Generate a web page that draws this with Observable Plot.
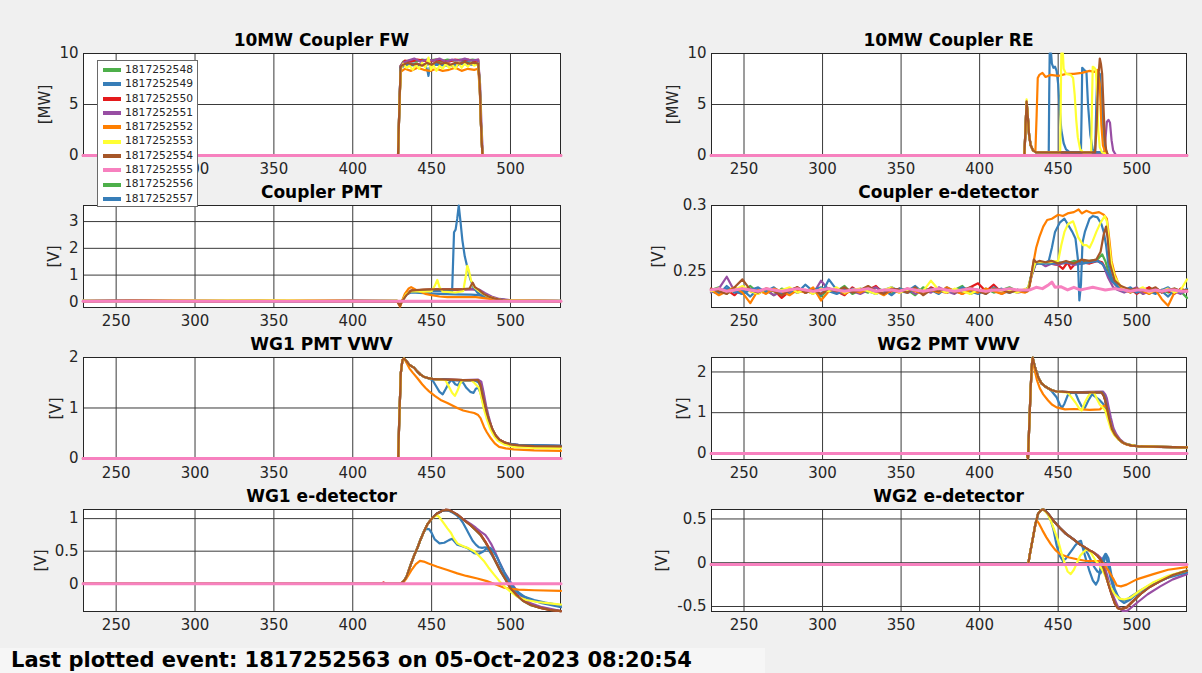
<!DOCTYPE html>
<html><head><meta charset="utf-8">
<script src="https://cdn.jsdelivr.net/npm/d3@7"></script>
<script src="https://cdn.jsdelivr.net/npm/@observablehq/plot@0.6"></script>
<style>
html,body{margin:0;padding:0;background:#f0f0f0;}
#fig{position:relative;width:1202px;height:673px;background:#f0f0f0;overflow:hidden;font-family:"DejaVu Sans",sans-serif;}
.title{position:absolute;text-align:center;font-weight:bold;font-size:17px;line-height:20px;color:#000;white-space:nowrap;}
#legend{position:absolute;left:97px;top:60px;width:101px;height:147px;box-sizing:border-box;background:#fff;border:1px solid #6a6a6a;z-index:5;padding-top:2px;}
.lg{height:14.3px;position:relative;}
.lg .sw{position:absolute;left:5px;top:5.2px;width:18px;height:4px;}
.lg .tx{position:absolute;left:27px;top:0;font-size:10.7px;line-height:14.3px;color:#262626;}
#footer{position:absolute;left:0;top:648px;width:765px;height:25px;background:#f6f6f6;}
#footer span{position:absolute;left:11px;top:0;font-size:21px;line-height:25px;font-weight:bold;color:#000;white-space:nowrap;}
</style></head>
<body><div id="fig"></div>
<script>
// ---------- series ----------
const seriesIds = ["1817252548","1817252549","1817252550","1817252551","1817252552","1817252553","1817252554","1817252555","1817252556","1817252557"];
const seriesColors = ["#4daf4a","#377eb8","#e41a1c","#984ea3","#ff7f00","#ffff33","#a65628","#f781bf","#4daf4a","#377eb8"];
const xTicks = [250,300,350,400,450,500];
const xDomain = [229.3,531.7];
const footerText = "Last plotted event: 1817252563 on 05-Oct-2023 08:20:54";

// ---------- 10MW Coupler FW ----------
const fwTraces = [
 {id:"1817252548",pts:[[229,0],[428.7,0],[429.6,5],[430.4,8.8],[432,9.2],[436,9.3],[440,9.2],[444,9.4],[448,9.3],[452,9.4],[456,9.2],[460,9.4],[464,9.3],[468,9.4],[472,9.3],[476,9.4],[479.5,9.3],[480.5,7],[481.3,3],[482.2,0],[532,0]]},
 {id:"1817252550",pts:[[229,0],[428.7,0],[429.6,5],[430.4,8.8],[433,9.3],[437,9.2],[441,9.4],[445,9.3],[449,9.2],[453,9.4],[457,9.3],[461,9.2],[465,9.4],[469,9.3],[473,9.4],[477,9.2],[479.5,9.4],[480.5,7],[481.3,3],[482.2,0],[532,0]]},
 {id:"1817252551",pts:[[229,0],[428.7,0],[429.6,5],[430.4,8.8],[432,9.1],[435,9.3],[439,9.5],[443,9.2],[447,9.4],[451,9.3],[455,9.5],[459,9.2],[463,9.4],[467,9.3],[471,9.5],[475,9.3],[479.5,9.4],[480.7,7],[481.6,3],[482.5,0],[532,0]]},
 {id:"1817252549",pts:[[229,0],[428.7,0],[429.6,5],[430.4,8.6],[434,8.9],[440,8.8],[446,8.9],[447.5,8.2],[448,7.8],[448.7,8.6],[452,8.9],[460,8.8],[468,9.0],[475,8.9],[479.5,8.9],[480.5,7],[481.3,3],[482.2,0],[532,0]]},
 {id:"1817252557",pts:[[229,0],[428.7,0],[429.6,5],[430.4,8.7],[436,9.0],[445,8.9],[455,9.0],[465,8.7],[470,9.2],[479.5,9.0],[480.5,7],[481.3,3],[482.2,0],[532,0]]},
 {id:"1817252552",pts:[[229,0],[428.7,0],[429.6,5],[430.4,8.2],[433,8.5],[437,8.3],[441,8.6],[445,8.4],[449,8.3],[453,8.5],[457,8.3],[461,8.4],[465,8.6],[469,8.3],[473,8.5],[477,8.4],[479.5,8.5],[480.5,6.5],[481.3,3],[482.2,0],[532,0]]},
 {id:"1817252553",pts:[[229,0],[428.7,0],[429.6,5],[430.5,8.5],[432,9.0],[434,8.6],[436,8.8],[438,8.4],[440,8.9],[442,8.5],[444,9.1],[446,8.6],[448,9.6],[449.5,8.4],[451,8.9],[453,8.3],[455,8.8],[457,8.5],[459,9.0],[461,8.6],[463,8.9],[465,8.5],[467,9.1],[469,8.6],[471,9.0],[473,8.7],[475,9.1],[477,8.8],[479.5,9.0],[480.5,7],[481.3,3],[482.2,0],[532,0]]},
 {id:"1817252554",pts:[[229,0],[428.7,0],[429.6,5],[430.4,8.7],[432,8.9],[435,9.1],[438,8.9],[441,9.0],[444,8.8],[447,9.1],[450,8.9],[453,9.2],[456,9.0],[459,9.1],[462,8.9],[465,9.1],[468,9.0],[471,9.2],[474,9.0],[477,9.1],[479.5,9.0],[480.5,7],[481.3,3],[482.2,0],[532,0]]},
 {id:"1817252555",pts:[[229,0],[532,0]]}
];

// ---------- 10MW Coupler RE ----------
const reTraces = [
 {id:"1817252548",pts:[[229,0],[428.5,0],[429.3,3],[429.9,5.2],[430.6,4],[431.5,2],[432.5,1],[434,0.5],[436,0.3],[478,0.3],[479.5,0.2],[481,0],[532,0]]},
 {id:"1817252550",pts:[[229,0],[428.5,0],[429.3,3],[429.9,5.2],[430.6,4],[431.5,2],[432.5,1],[434,0.5],[436,0.3],[478,0.3],[479.5,0.2],[481,0],[532,0]]},
 {id:"1817252551",pts:[[229,0],[428.5,0],[429.3,3],[429.9,5.2],[430.6,4],[431.5,2],[432.5,1],[434,0.5],[436,0.3],[479.5,0.3],[480.3,2],[481,3.3],[482,3.5],[483,3.2],[484,1.5],[485,0.5],[486.5,0.1],[487.5,0],[532,0]]},
 {id:"1817252549",pts:[[229,0],[428.5,0],[429.3,3],[429.9,5.2],[430.6,4],[431.5,2],[432.5,1],[434,0.5],[436,0.3],[444,0.3],[444.3,6],[444.6,10],[445.5,10],[446,9],[447,8.6],[448,8.7],[449,8.3],[450,7],[451,4.5],[452,2.5],[453.5,1.2],[455,0.6],[457,0.35],[478,0.3],[480,0.2],[481.5,0],[532,0]]},
 {id:"1817252557",pts:[[229,0],[428.5,0],[429.3,3],[429.9,5.2],[430.6,4],[431.5,2],[432.5,1],[434,0.5],[436,0.3],[464.5,0.3],[465,5],[465.3,8.6],[466.5,8.4],[468,8.2],[469,5],[470.5,2],[472,0.6],[473.5,0.3],[474.3,5],[475,8.2],[476.5,8.0],[477.5,6],[478.5,3],[479.5,1],[481,0.2],[482,0],[532,0]]},
 {id:"1817252552",pts:[[229,0],[428.5,0],[429.3,3],[429.9,5.2],[430.6,4],[431.5,2],[432.5,1],[434,0.5],[435.5,0.4],[436.3,4],[437,7.6],[438,7.9],[440,8.1],[442,7.7],[445,7.9],[450,7.8],[455,8.0],[460,8.0],[465,8.1],[470,8.3],[473,8.2],[475,8.4],[476.5,7],[477.5,3],[478.5,1],[480,0.3],[481.5,0],[532,0]]},
 {id:"1817252553",pts:[[229,0],[428.5,0],[429.3,3],[429.9,5.5],[430.6,4],[431.5,2],[432.5,1],[434,0.5],[436,0.3],[451.3,0.3],[451.7,6],[452,10],[453,10],[453.5,8.5],[455,8.0],[458,7.9],[459.5,7.6],[460.5,6],[461.5,3.5],[462.5,1.8],[464,0.6],[466,0.3],[471,0.3],[471.5,5],[472,8.7],[473,8.6],[474,8.4],[474.8,6],[475.5,2.5],[476.5,0.8],[478,0.3],[480,0.2],[481.5,0],[532,0]]},
 {id:"1817252554",pts:[[229,0],[428.5,0],[429.3,3],[429.9,5.3],[430.6,4],[431.5,2],[432.5,1],[434,0.5],[436,0.3],[473.5,0.3],[474.5,3],[475.5,7.5],[476.5,9.5],[477.2,9.0],[478,8.0],[478.8,5],[479.6,2],[480.5,0.6],[481.5,0.1],[482.5,0],[532,0]]},
 {id:"1817252555",pts:[[229,0],[532,0]]}
];

// ---------- Coupler PMT ----------
const cpmtTraces = [
 {id:"1817252548",pts:[[229,0.04],[280,0.03],[330,0.05],[380,0.03],[428,0.04],[430,-0.1],[431.5,0.05],[434,0.3],[437,0.42],[442,0.44],[450,0.46],[460,0.45],[470,0.47],[476,0.5],[479,0.45],[483,0.3],[487,0.18],[492,0.1],[500,0.05],[532,0.04]]},
 {id:"1817252550",pts:[[229,0.03],[270,0.05],[320,0.02],[370,0.05],[428,0.03],[430,-0.1],[431.5,0.05],[434,0.3],[437,0.42],[445,0.45],[455,0.47],[465,0.46],[475,0.48],[479,0.45],[483,0.3],[487,0.18],[492,0.1],[500,0.05],[532,0.03]]},
 {id:"1817252551",pts:[[229,0.05],[260,0.03],[310,0.06],[360,0.03],[428,0.05],[430,-0.12],[431.5,0.05],[434,0.3],[437,0.4],[445,0.44],[455,0.46],[465,0.47],[475,0.48],[480,0.46],[484,0.32],[488,0.2],[493,0.11],[500,0.06],[532,0.04]]},
 {id:"1817252549",pts:[[229,0.03],[300,0.04],[350,0.02],[400,0.04],[428,0.03],[430,-0.1],[431.5,0.05],[434,0.3],[437,0.4],[445,0.42],[455,0.4],[463,0.4],[463.6,1.5],[464.2,2.6],[465.2,2.7],[466.2,3.1],[467.2,3.6],[468.3,3.0],[469.5,2.3],[471,1.7],[472.6,1.3],[474.5,0.85],[476.5,0.55],[479,0.35],[482,0.22],[486,0.15],[491,0.08],[500,0.04],[532,0.03]]},
 {id:"1817252557",pts:[[229,0.04],[320,0.03],[428,0.04],[430,-0.1],[431.5,0.05],[434,0.28],[437,0.35],[445,0.33],[455,0.3],[465,0.28],[475,0.27],[480,0.25],[485,0.17],[490,0.1],[500,0.05],[532,0.04]]},
 {id:"1817252552",pts:[[229,0.03],[290,0.05],[340,0.03],[390,0.05],[428,0.03],[430,-0.18],[431,0.0],[433,0.3],[435.5,0.5],[437,0.55],[440,0.45],[443,0.38],[446,0.3],[450,0.25],[455,0.2],[460,0.18],[470,0.18],[478,0.18],[482,0.15],[488,0.1],[495,0.05],[532,0.03]]},
 {id:"1817252553",pts:[[229,0.05],[250,0.03],[300,0.05],[350,0.07],[400,0.03],[428,0.05],[430,-0.1],[431.5,0.05],[434,0.3],[437,0.4],[445,0.38],[450,0.4],[452,0.6],[453.6,0.82],[455,0.55],[457,0.38],[465,0.35],[470,0.4],[471.5,0.9],[472.6,1.35],[473.5,1.2],[475,0.8],[477,0.55],[480,0.4],[485,0.22],[490,0.12],[495,0.06],[532,0.04]]},
 {id:"1817252554",pts:[[229,0.03],[260,0.05],[300,0.02],[340,0.04],[380,0.02],[428,0.03],[430,-0.15],[431,0.0],[434,0.25],[437,0.42],[440,0.44],[445,0.46],[450,0.47],[460,0.47],[470,0.48],[474,0.5],[476,0.72],[477.5,0.55],[480,0.45],[483,0.3],[486,0.2],[490,0.12],[495,0.07],[500,0.05],[532,0.03]]},
 {id:"1817252555",pts:[[229,0.02],[532,0.02]]}
];

// ---------- Coupler e-detector (noisy baseline sampled at cedPreX / cedPostX) ----------
const cedPreX = [229,234,239,244,249,254,259,264,269,274,279,284,289,294,299,304,309,314,319,324,329,334,339,344,349,354,359,364,369,374,379,384,389,394,399,404,409,414,419,424,429];
const cedPostX = [492,496,500,504,508,512,516,520,524,528,532];
const cedTraces = [
 {id:"1817252548",
  pre:[.236,.238,.233,.237,.235,.239,.234,.236,.232,.237,.235,.238,.234,.236,.231,.237,.235,.239,.233,.236,.234,.238,.235,.233,.237,.236,.232,.238,.235,.237,.234,.236,.239,.233,.235,.237,.234,.236,.238,.235,.236],
  pts:[[431,.238],[433,.248],[435.5,.257],[440,.256],[445,.258],[450,.257],[455,.256],[460,.258],[465,.257],[470,.258],[475,.259],[478,.263],[480,.258],[482,.25],[485,.243],[488,.239]],
  post:[.237,.234,.236,.233,.238,.235,.236,.234,.237,.235,.230]},
 {id:"1817252550",
  pre:[.237,.234,.236,.232,.238,.235,.233,.237,.236,.230,.235,.238,.234,.236,.233,.237,.235,.232,.238,.234,.236,.239,.233,.235,.237,.234,.236,.233,.238,.235,.234,.236,.233,.238,.241,.235,.240,.234,.237,.235,.236],
  pts:[[431,.237],[433,.247],[435.5,.256],[440,.257],[445,.256],[450,.255],[453,.252],[456,.257],[458,.252],[461,.256],[465,.257],[470,.256],[475,.258],[478,.257],[481,.25],[484,.243],[488,.238]],
  post:[.235,.237,.233,.236,.238,.234,.236,.235,.233,.237,.235]},
 {id:"1817252551",
  pre:[.234,.237,.246,.235,.233,.237,.234,.236,.232,.235,.237,.234,.236,.233,.243,.236,.234,.237,.235,.233,.236,.238,.234,.236,.235,.237,.233,.236,.234,.238,.235,.233,.237,.236,.234,.235,.237,.233,.236,.234,.235],
  pts:[[431,.236],[433,.246],[435.5,.255],[438,.257],[442,.254],[446,.256],[450,.255],[455,.257],[460,.255],[465,.256],[470,.257],[475,.258],[478.7,.255],[481.9,.245],[485,.238],[488,.236]],
  post:[.234,.236,.238,.233,.235,.237,.234,.236,.235,.233,.236]},
 {id:"1817252549",
  pre:[.235,.233,.239,.234,.236,.231,.237,.235,.238,.233,.236,.234,.240,.235,.232,.244,.236,.233,.237,.235,.238,.234,.236,.232,.237,.235,.239,.234,.236,.233,.238,.235,.234,.237,.236,.233,.238,.235,.234,.236,.235],
  pts:[[431,.236],[433,.248],[435.5,.257],[440,.256],[444,.258],[446,.268],[448,.28],[451,.287],[454,.29],[456,.286],[459,.28],[461,.275],[462.5,.26],[463.5,.228],[464.5,.24],[465.5,.272],[467,.28],[470,.29],[472,.292],[475,.291],[477.5,.286],[479,.28],[480.5,.27],[482,.255],[484,.246],[487,.24],[490,.237]],
  post:[.236,.238,.234,.236,.233,.237,.235,.231,.236,.234,.237]},
 {id:"1817252557",
  pre:[.236,.234,.237,.235,.233,.236,.238,.234,.236,.235,.233,.237,.234,.236,.238,.235,.233,.236,.234,.237,.235,.233,.236,.238,.235,.234,.236,.233,.237,.235,.236,.234,.238,.235,.233,.236,.235,.237,.234,.236,.235],
  pts:[[431,.237],[433,.247],[435.5,.256],[445,.256],[455,.257],[465,.256],[475,.258],[478,.256],[481,.25],[484,.243],[488,.238]],
  post:[.235,.237,.234,.236,.235,.233,.236,.238,.234,.236,.235]},
 {id:"1817252552",
  pre:[.236,.232,.235,.238,.234,.226,.236,.233,.237,.235,.232,.236,.234,.238,.228,.235,.237,.233,.236,.234,.237,.235,.232,.236,.234,.237,.235,.233,.236,.234,.238,.235,.233,.236,.234,.237,.235,.233,.236,.235,.234],
  pts:[[430.5,.235],[432,.24],[434,.255],[436,.268],[438,.276],[440.5,.284],[443,.289],[446,.29],[450,.293],[453,.292],[456,.294],[460,.295],[463,.297],[465,.294],[468,.296],[472,.294],[476,.295],[479,.293],[481,.29],[482.5,.275],[484,.258],[486,.248],[488,.242],[490,.238]],
  post:[.236,.234,.237,.235,.233,.236,.229,.224,.234,.236,.235]},
 {id:"1817252553",
  pre:[.235,.237,.234,.236,.239,.235,.233,.237,.235,.236,.238,.234,.236,.233,.237,.235,.238,.234,.236,.237,.235,.233,.236,.238,.234,.236,.237,.235,.243,.236,.234,.237,.235,.233,.236,.234,.237,.235,.236,.234,.237],
  pts:[[430.5,.236],[433,.247],[435.5,.257],[445,.257],[450,.258],[452,.27],[454,.28],[456.3,.286],[459.5,.288],[461,.283],[462.7,.276],[465.9,.27],[468,.27],[470,.268],[472,.273],[474.3,.28],[477,.287],[479.6,.292],[481,.288],[482.5,.27],[484,.255],[486,.246],[489,.24]],
  post:[.237,.235,.236,.238,.234,.236,.235,.237,.234,.236,.244]},
 {id:"1817252554",
  pre:[.237,.235,.233,.238,.244,.236,.234,.237,.235,.232,.236,.238,.234,.236,.233,.237,.235,.238,.234,.236,.239,.235,.233,.237,.236,.234,.238,.232,.236,.235,.237,.234,.236,.238,.235,.233,.237,.236,.234,.236,.235],
  pts:[[430.5,.235],[431.5,.238],[433,.248],[434.5,.259],[436,.257],[438,.258],[442,.257],[446,.258],[450,.256],[455,.258],[460,.256],[465,.259],[470,.258],[474.3,.259],[477,.265],[479,.278],[480.5,.284],[481.5,.275],[482.9,.256],[486,.243],[490,.239]],
  post:[.238,.236,.237,.235,.236,.238,.234,.236,.237,.235,.236]},
 {id:"1817252555",
  pre:[.236,.237,.235,.236,.237,.236,.235,.237,.236,.235,.236,.237,.236,.235,.236,.237,.236,.235,.236,.236,.237,.235,.236,.236,.235,.237,.236,.235,.236,.237,.236,.235,.236,.237,.236,.235,.236,.236,.237,.236,.236],
  pts:[[432,.236],[436,.238],[440,.237],[444,.240],[446,.242],[448,.238],[451.6,.2385],[456,.236],[460,.238],[464,.236],[468,.237],[472,.238],[476,.237],[480,.236],[486,.237]],
  post:[.236,.235,.236,.236,.235,.236,.235,.236,.236,.235,.235]}
];

// ---------- WG1 PMT VWV ----------
const wg1pmtTraces = [
 {id:"1817252548",pts:[[229,0],[428.8,0],[429.5,0.8],[430.5,1.7],[431.5,1.95],[432.5,1.98],[434,1.93],[436,1.85],[438.8,1.8],[441,1.72],[443,1.66],[445,1.62],[448,1.59],[451.6,1.57],[460,1.56],[470,1.55],[479.5,1.55],[481,1.45],[482.3,1.25],[483.5,1.1],[485,0.9],[486.5,0.75],[488.5,0.58],[490.7,0.45],[493,0.37],[496,0.32],[500,0.28],[505,0.26],[515,0.245],[532,0.24]]},
 {id:"1817252550",pts:[[229,0],[428.8,0],[429.5,0.8],[430.5,1.7],[431.5,1.95],[432.5,1.98],[434,1.93],[436,1.85],[438.8,1.8],[441,1.72],[443,1.66],[445,1.62],[448,1.59],[451.6,1.57],[460,1.56],[470,1.55],[479.5,1.55],[481,1.45],[482.3,1.25],[483.5,1.1],[485,0.9],[486.5,0.75],[488.5,0.58],[490.7,0.45],[493,0.37],[496,0.32],[500,0.28],[505,0.26],[515,0.245],[532,0.24]]},
 {id:"1817252551",pts:[[229,0],[428.8,0],[429.5,0.8],[430.5,1.7],[431.5,1.95],[432.5,1.98],[434,1.93],[436,1.85],[438.8,1.8],[441,1.72],[443,1.66],[445,1.62],[448,1.59],[451.6,1.57],[460,1.56],[470,1.55],[479.5,1.56],[481.5,1.52],[483,1.3],[484.5,1.05],[486,0.85],[488,0.62],[490,0.48],[493,0.37],[497,0.3],[505,0.27],[532,0.25]]},
 {id:"1817252549",pts:[[229,0],[428.8,0],[429.5,0.8],[430.5,1.7],[431.5,1.95],[432.5,1.98],[434,1.93],[436,1.85],[438.8,1.8],[441,1.72],[443,1.66],[445,1.62],[448,1.59],[450.6,1.55],[452.5,1.45],[455,1.32],[457,1.27],[459,1.38],[461,1.5],[462.3,1.55],[478,1.54],[480,1.5],[481.5,1.38],[483,1.15],[485,0.9],[487,0.68],[489.5,0.5],[492,0.38],[496,0.3],[502,0.27],[532,0.25]]},
 {id:"1817252557",pts:[[229,0],[428.8,0],[429.5,0.8],[430.5,1.7],[431.5,1.95],[432.5,1.98],[434,1.93],[436,1.85],[438.8,1.8],[441,1.72],[443,1.66],[445,1.62],[448,1.59],[451.6,1.57],[460,1.56],[463,1.55],[465,1.47],[466.5,1.45],[468,1.52],[470,1.5],[472,1.4],[474.5,1.32],[476.6,1.3],[478,1.38],[479.5,1.4],[481,1.3],[483,1.05],[485,0.85],[487.5,0.62],[490,0.46],[493,0.36],[497,0.3],[505,0.27],[532,0.25]]},
 {id:"1817252552",pts:[[229,0],[428.8,0],[429.5,0.8],[430.5,1.7],[431.5,1.95],[432.5,1.98],[434,1.9],[436,1.78],[438,1.7],[441,1.59],[444,1.47],[446,1.4],[448.4,1.33],[452,1.24],[455.7,1.16],[460,1.1],[466.3,1.0],[470,0.95],[474,0.92],[477,0.9],[479.5,0.86],[481,0.8],[482,0.72],[483.3,0.62],[485,0.52],[487.5,0.4],[490,0.3],[492.8,0.23],[497,0.2],[502,0.18],[515,0.16],[532,0.15]]},
 {id:"1817252553",pts:[[229,0],[428.8,0],[429.5,0.8],[430.5,1.7],[431.5,1.95],[432.5,1.98],[434,1.93],[436,1.85],[438.8,1.8],[441,1.72],[443,1.66],[445,1.62],[448,1.59],[451.6,1.57],[458.8,1.55],[461,1.42],[463,1.3],[464.7,1.24],[466.5,1.35],[468,1.48],[469.5,1.55],[475,1.55],[477,1.5],[478.5,1.45],[480,1.4],[481.5,1.22],[483,1.0],[485,0.78],[487,0.6],[489.5,0.45],[492,0.35],[496,0.28],[502,0.23],[515,0.21],[532,0.2]]},
 {id:"1817252554",pts:[[229,0],[428.8,0],[429.5,0.8],[430.5,1.7],[431.5,1.95],[432.5,1.98],[434,1.93],[436,1.85],[438.8,1.8],[441,1.72],[443,1.66],[445,1.62],[448,1.59],[451.6,1.57],[460,1.56],[470,1.55],[479.5,1.55],[481,1.45],[482.3,1.25],[483.5,1.1],[485,0.9],[486.5,0.75],[488.5,0.58],[490.7,0.45],[493,0.37],[496,0.32],[500,0.28],[505,0.26],[515,0.245],[532,0.24]]},
 {id:"1817252555",pts:[[229,0],[532,0]]}
];

// ---------- WG2 PMT VWV ----------
const wg2pmtTraces = [
 {id:"1817252548",pts:[[229,0],[430,0],[430.8,-0.12],[431.5,0.6],[432.5,1.6],[433.3,2.2],[433.8,2.35],[435,2.15],[436.2,2.0],[437.5,1.85],[439.4,1.72],[441.5,1.65],[443.6,1.6],[446,1.55],[449,1.52],[460,1.5],[470,1.5],[477.7,1.5],[479,1.42],[480,1.3],[481,1.12],[482.5,0.85],[484.2,0.6],[486,0.47],[488.5,0.35],[491,0.27],[493.8,0.22],[497,0.19],[502.3,0.17],[515,0.16],[532,0.15]]},
 {id:"1817252550",pts:[[229,0],[430,0],[430.8,-0.12],[431.5,0.6],[432.5,1.6],[433.3,2.2],[433.8,2.35],[435,2.15],[436.2,2.0],[437.5,1.85],[439.4,1.72],[441.5,1.65],[443.6,1.6],[446,1.55],[449,1.52],[460,1.5],[470,1.5],[477.7,1.5],[479,1.42],[480,1.3],[481,1.12],[482.5,0.85],[484.2,0.6],[486,0.47],[488.5,0.35],[491,0.27],[493.8,0.22],[497,0.19],[502.3,0.17],[515,0.16],[532,0.15]]},
 {id:"1817252551",pts:[[229,0],[430,0],[430.8,-0.12],[431.5,0.6],[432.5,1.6],[433.3,2.2],[433.8,2.33],[435,2.15],[436.2,2.0],[437.5,1.85],[439.4,1.72],[441.5,1.65],[443.6,1.6],[446,1.55],[449,1.52],[460,1.5],[470,1.51],[478.5,1.52],[480,1.45],[481,1.35],[482,1.15],[483.5,0.88],[485.2,0.62],[487,0.47],[489.5,0.34],[492,0.26],[495,0.21],[500,0.18],[510,0.16],[532,0.15]]},
 {id:"1817252549",pts:[[229,0],[430,0],[430.8,-0.12],[431.5,0.6],[432.5,1.6],[433.3,2.2],[433.8,2.35],[435,2.15],[436.2,2.0],[437.5,1.85],[439.4,1.72],[441.5,1.65],[443.6,1.6],[446,1.52],[449,1.38],[451,1.2],[452.5,1.12],[454,1.22],[456,1.42],[458.5,1.5],[478,1.5],[479.5,1.4],[481,1.15],[482.5,0.88],[484.2,0.62],[486,0.47],[488.5,0.35],[491,0.27],[494,0.22],[500,0.18],[515,0.16],[532,0.15]]},
 {id:"1817252557",pts:[[229,0],[430,0],[430.8,-0.12],[431.5,0.6],[432.5,1.6],[433.3,2.2],[433.8,2.35],[435,2.15],[436.2,2.0],[437.5,1.85],[439.4,1.72],[441.5,1.65],[443.6,1.6],[446,1.55],[449,1.52],[460,1.5],[461,1.48],[463,1.3],[465,1.15],[467,1.12],[469.2,1.3],[471.5,1.45],[474,1.38],[476.6,1.3],[479,1.2],[480.5,1.1],[482,0.85],[484,0.6],[486,0.46],[488.5,0.34],[491,0.27],[494,0.22],[500,0.18],[515,0.16],[532,0.15]]},
 {id:"1817252552",pts:[[229,0],[430,0],[430.8,-0.12],[431.5,0.6],[432.5,1.6],[433.3,2.2],[433.8,2.33],[435,2.05],[436.5,1.8],[438.3,1.6],[440.5,1.45],[443.6,1.3],[446,1.2],[449,1.13],[454.4,1.08],[460,1.09],[465,1.08],[470,1.07],[476.6,1.08],[478.5,1.15],[480,1.18],[481,1.1],[482.5,0.85],[484.2,0.6],[486,0.47],[488.5,0.35],[491,0.26],[494,0.21],[500,0.18],[515,0.16],[532,0.15]]},
 {id:"1817252553",pts:[[229,0],[430,0],[430.8,-0.12],[431.5,0.6],[432.5,1.6],[433.3,2.2],[433.8,2.35],[435,2.15],[436.2,2.0],[437.5,1.85],[439.4,1.72],[441.5,1.65],[443.6,1.6],[446,1.55],[449,1.52],[455,1.5],[456,1.5],[458,1.4],[461,1.25],[463.5,1.1],[465,1.05],[467,1.25],[469,1.4],[471,1.5],[472.8,1.5],[474.5,1.35],[476.5,1.2],[478.5,1.12],[480,1.05],[481.5,0.85],[483.5,0.6],[485.5,0.46],[488,0.35],[491,0.27],[494,0.22],[500,0.18],[515,0.16],[532,0.15]]},
 {id:"1817252554",pts:[[229,0],[430,0],[430.8,-0.12],[431.5,0.6],[432.5,1.6],[433.3,2.2],[433.8,2.35],[435,2.15],[436.2,2.0],[437.5,1.85],[439.4,1.72],[441.5,1.65],[443.6,1.6],[446,1.55],[449,1.52],[460,1.5],[470,1.5],[477.7,1.5],[479,1.42],[480,1.3],[481,1.12],[482.5,0.85],[484.2,0.6],[486,0.47],[488.5,0.35],[491,0.27],[493.8,0.22],[497,0.19],[502.3,0.17],[515,0.16],[532,0.15]]},
 {id:"1817252555",pts:[[229,0],[532,0]]}
];

// ---------- WG1 e-detector ----------
const wg1edTraces = [
 {id:"1817252548",pts:[[229,0],[430,0],[432,0.03],[434,0.1],[436.7,0.29],[439,0.44],[441,0.55],[443,0.68],[445.1,0.8],[447.5,0.92],[450.4,1.01],[453.5,1.08],[456.8,1.12],[459,1.135],[461,1.13],[463.5,1.1],[466.3,1.06],[470,0.99],[474.7,0.9],[478,0.82],[481,0.75],[484,0.64],[487.3,0.5],[490.5,0.34],[493.7,0.19],[497,0.06],[500,-0.07],[504,-0.18],[508.4,-0.27],[513,-0.33],[519,-0.37],[525,-0.4],[532,-0.42]]},
 {id:"1817252550",pts:[[229,0],[418,0],[419.5,0.02],[421,0],[430,0],[432,0.03],[434,0.1],[436.7,0.29],[439,0.44],[441,0.55],[443,0.68],[445.1,0.8],[447.5,0.92],[450.4,1.01],[453.5,1.08],[456.8,1.12],[459,1.135],[461,1.13],[463.5,1.1],[466.3,1.06],[470,0.99],[474.7,0.9],[478,0.83],[481,0.76],[484,0.65],[487.3,0.51],[490.5,0.35],[493.7,0.2],[497,0.07],[500,-0.06],[504,-0.17],[508.4,-0.26],[513,-0.32],[519,-0.37],[525,-0.4],[532,-0.42]]},
 {id:"1817252551",pts:[[229,0],[430,0],[432,0.03],[434,0.1],[436.7,0.29],[439,0.44],[441,0.55],[443,0.68],[445.1,0.8],[447.5,0.92],[450.4,1.01],[453.5,1.08],[456.8,1.12],[459,1.135],[461,1.13],[463.5,1.1],[466.3,1.06],[470,0.99],[474.7,0.92],[478,0.86],[481,0.8],[484,0.75],[486,0.68],[488,0.6],[490,0.5],[493,0.33],[496,0.18],[500,0.03],[504.4,-0.12],[508,-0.22],[512.8,-0.3],[520,-0.36],[532,-0.42]]},
 {id:"1817252549",pts:[[229,0],[430,0],[432,0.03],[434,0.1],[436.7,0.29],[439,0.44],[441,0.55],[443,0.68],[445.1,0.8],[446.5,0.84],[448.4,0.84],[450,0.78],[452,0.68],[455,0.62],[458,0.63],[461,0.67],[463,0.69],[466.3,0.6],[469,0.58],[472.6,0.55],[476.9,0.47],[480,0.46],[483,0.5],[485,0.55],[487.3,0.55],[489.5,0.48],[491.6,0.4],[494.5,0.25],[497.9,0.09],[501,-0.03],[504.4,-0.12],[509,-0.2],[515,-0.25],[522,-0.29],[532,-0.33]]},
 {id:"1817252557",pts:[[229,0],[430,0],[432,0.03],[434,0.1],[436.7,0.29],[439,0.44],[441,0.55],[443,0.68],[445.1,0.8],[447.5,0.92],[450.4,1.01],[453.5,1.08],[456.8,1.12],[459,1.13],[461,1.12],[463.5,1.09],[466,1.05],[468,1.0],[470,0.93],[472,0.84],[474,0.75],[476,0.66],[478,0.6],[480,0.56],[482,0.55],[484,0.56],[486,0.52],[488,0.45],[491,0.33],[495,0.15],[500,-0.03],[505,-0.15],[512,-0.24],[520,-0.3],[532,-0.36]]},
 {id:"1817252552",pts:[[229,0],[430,0],[432,0.02],[434,0.08],[437,0.2],[440,0.3],[442.6,0.35],[445,0.34],[448,0.31],[453.6,0.26],[460,0.21],[466.3,0.16],[472,0.12],[479,0.08],[485,0.04],[491.6,-0.02],[496,-0.06],[500,-0.08],[505,-0.09],[515,-0.1],[532,-0.11]]},
 {id:"1817252553",pts:[[229,0],[430,0],[432,0.03],[434,0.1],[436.7,0.29],[439,0.44],[441,0.55],[443,0.68],[445.1,0.8],[447.5,0.92],[450.4,1.01],[452.5,1.04],[453.6,1.05],[455,1.02],[458,0.92],[460,0.85],[462.3,0.78],[464,0.7],[466.3,0.62],[468,0.6],[470.6,0.57],[473,0.55],[476.9,0.5],[480,0.43],[483.1,0.35],[486,0.25],[489.6,0.14],[493,0.04],[496,-0.04],[500,-0.12],[504.4,-0.2],[510,-0.25],[517,-0.28],[525,-0.3],[532,-0.32]]},
 {id:"1817252554",pts:[[229,0],[430,0],[432,0.03],[434,0.1],[436.7,0.29],[439,0.44],[441,0.55],[443,0.68],[445.1,0.8],[447.5,0.92],[450.4,1.01],[453.5,1.08],[456.8,1.12],[459,1.135],[461,1.13],[463.5,1.1],[466.3,1.06],[470,0.99],[474.7,0.9],[478,0.82],[481,0.75],[484,0.64],[487.3,0.5],[490.5,0.34],[493.7,0.19],[497,0.06],[500,-0.07],[504,-0.18],[508.4,-0.27],[513,-0.33],[519,-0.37],[525,-0.4],[532,-0.42]]},
 {id:"1817252555",pts:[[229,0],[532,0]]}
];

// ---------- WG2 e-detector ----------
const wg2edTraces = [
 {id:"1817252548",pts:[[229,-0.02],[430.9,-0.02],[432,0.1],[434,0.29],[435.5,0.44],[437.2,0.56],[439,0.6],[440.5,0.61],[442,0.59],[443.6,0.56],[447,0.48],[451,0.4],[455,0.33],[459.6,0.27],[463,0.22],[467,0.175],[470,0.14],[472.3,0.12],[475,0.08],[477.7,0.02],[479.5,-0.1],[481.9,-0.24],[484,-0.36],[486.2,-0.47],[488,-0.52],[490,-0.53],[493.6,-0.51],[497,-0.45],[502.3,-0.36],[508,-0.28],[515,-0.21],[523,-0.14],[532,-0.09]]},
 {id:"1817252550",pts:[[229,-0.02],[430.9,-0.02],[432,0.1],[434,0.29],[435.5,0.44],[437.2,0.56],[439,0.6],[440.5,0.61],[442,0.59],[443.6,0.56],[447,0.48],[451,0.4],[455,0.33],[459.6,0.27],[463,0.22],[467,0.175],[470,0.14],[472.3,0.12],[475,0.08],[477.7,0.02],[479.5,-0.1],[481.9,-0.24],[484,-0.36],[486.2,-0.47],[488,-0.52],[490,-0.53],[493.6,-0.51],[497,-0.45],[502.3,-0.36],[508,-0.28],[515,-0.21],[523,-0.14],[532,-0.1]]},
 {id:"1817252551",pts:[[229,-0.02],[430.9,-0.02],[432,0.1],[434,0.29],[435.5,0.44],[437.2,0.56],[439,0.6],[440.5,0.61],[442,0.59],[443.6,0.56],[447,0.48],[451,0.4],[455,0.33],[459.6,0.27],[463,0.22],[467,0.175],[470,0.14],[472.3,0.12],[475,0.09],[478.5,0.03],[480.5,-0.1],[483,-0.26],[485.5,-0.4],[488,-0.5],[491,-0.55],[494,-0.55],[500,-0.46],[507,-0.36],[515,-0.27],[523,-0.19],[532,-0.13]]},
 {id:"1817252549",pts:[[229,-0.02],[430.9,-0.02],[432,0.1],[434,0.29],[435.5,0.44],[437.2,0.56],[439,0.6],[440.5,0.61],[442,0.59],[443.6,0.55],[445,0.5],[447,0.38],[449,0.2],[451,0.08],[453,0.02],[455,0.05],[457,0.1],[459,0.15],[461,0.2],[463,0.24],[464.5,0.25],[466,0.15],[468,0.02],[470,-0.1],[472,-0.2],[474,-0.25],[475.5,-0.2],[477,-0.05],[478.5,0.05],[480,0.1],[481.5,0.0],[483,-0.15],[485,-0.28],[487,-0.37],[490,-0.42],[493,-0.43],[497,-0.38],[503,-0.31],[512,-0.22],[522,-0.15],[532,-0.1]]},
 {id:"1817252557",pts:[[229,-0.02],[430.9,-0.02],[432,0.1],[434,0.29],[435.5,0.44],[437.2,0.56],[439,0.6],[440.5,0.61],[442,0.59],[443.6,0.56],[447,0.48],[451,0.4],[455,0.33],[459.6,0.27],[463,0.22],[465,0.2],[467,0.15],[469,0.1],[471,0.02],[473,-0.05],[475,-0.1],[477,-0.12],[479,0.0],[480.5,0.1],[482,0.05],[484,-0.15],[486,-0.3],[489,-0.42],[492,-0.46],[496,-0.42],[502,-0.33],[510,-0.25],[520,-0.17],[532,-0.11]]},
 {id:"1817252552",pts:[[229,-0.02],[430.9,-0.02],[432,0.1],[434,0.29],[435.5,0.45],[436.5,0.48],[438,0.44],[440,0.37],[442.5,0.29],[445.4,0.21],[448,0.15],[451,0.1],[457,0.06],[462,0.04],[468,0.02],[476.6,0.02],[479,-0.01],[482,-0.09],[485,-0.18],[487.3,-0.26],[490,-0.27],[493.6,-0.25],[500,-0.19],[510.6,-0.13],[520,-0.08],[532,-0.05]]},
 {id:"1817252553",pts:[[229,-0.02],[430.9,-0.02],[432,0.1],[434,0.29],[435.5,0.44],[437.2,0.56],[439,0.6],[440.5,0.61],[442,0.58],[443.6,0.55],[446,0.45],[448,0.35],[450,0.25],[452,0.12],[454,0.0],[456,-0.1],[458,-0.13],[460,-0.08],[462,0.0],[464,0.08],[466,0.12],[468,0.15],[470,0.14],[472,0.08],[474,0.02],[476,-0.02],[478,-0.08],[480,-0.15],[483,-0.27],[486,-0.36],[489,-0.41],[492,-0.42],[496,-0.4],[502,-0.32],[510,-0.23],[520,-0.15],[532,-0.09]]},
 {id:"1817252554",pts:[[229,-0.02],[430.9,-0.02],[432,0.1],[434,0.29],[435.5,0.44],[437.2,0.56],[439,0.6],[440.5,0.61],[442,0.59],[443.6,0.56],[447,0.48],[451,0.4],[455,0.33],[459.6,0.27],[463,0.22],[467,0.175],[470,0.14],[472.3,0.12],[475,0.08],[477.7,0.02],[479.5,-0.1],[481.9,-0.24],[484,-0.36],[486.2,-0.47],[488,-0.52],[490,-0.53],[493.6,-0.51],[497,-0.45],[502.3,-0.36],[508,-0.28],[515,-0.21],[523,-0.14],[532,-0.09]]},
 {id:"1817252555",pts:[[229,-0.02],[532,-0.02]]}
];

// ---------- panel setup ----------
const panels = [
 {title:"10MW Coupler FW", traces:fwTraces, yDomain:[0,10], yTicks:[0,5,10], ylabel:"[MW]", col:0, row:0, labelX:45},
 {title:"10MW Coupler RE", traces:reTraces, yDomain:[0,10], yTicks:[0,5,10], ylabel:"[MW]", col:1, row:0, labelX:672.7},
 {title:"Coupler PMT", traces:cpmtTraces, yDomain:[-0.21,3.6], yTicks:[0,1,2,3], ylabel:"[V]", col:0, row:1, labelX:53.6},
 {title:"Coupler e-detector", traces:cedTraces, preX:cedPreX, postX:cedPostX, yDomain:[0.2227,0.3], yTicks:[0.25,0.3], ylabel:"[V]", col:1, row:1, labelX:657.4},
 {title:"WG1 PMT VWV", traces:wg1pmtTraces, yDomain:[-0.02,2], yTicks:[0,1,2], ylabel:"[V]", col:0, row:2, labelX:55.5},
 {title:"WG2 PMT VWV", traces:wg2pmtTraces, yDomain:[-0.15,2.355], yTicks:[0,1,2], ylabel:"[V]", col:1, row:2, labelX:682.3},
 {title:"WG1 e-detector", traces:wg1edTraces, yDomain:[-0.426,1.14], yTicks:[0,0.5,1], ylabel:"[V]", col:0, row:3, labelX:40.2},
 {title:"WG2 e-detector", traces:wg2edTraces, yDomain:[-0.557,0.608], yTicks:[-0.5,0,0.5], ylabel:"[V]", col:1, row:3, labelX:661.2}
];

const ML = 70, MR = 10, MT = 4, MB = 28, PH = 102;
const colLeft = [83, 711], colW = [477, 475], rowTop = [53, 205, 357, 509];
const pinkId = "1817252555";
const fig = document.getElementById("fig");

function tracePoints(tr, preX, postX) {
  const out = [];
  if (tr.pre) tr.pre.forEach((y, i) => { if (i < preX.length) out.push([preX[i], y]); });
  for (const p of tr.pts) out.push(p);
  if (tr.post) tr.post.forEach((y, i) => { if (i < postX.length) out.push([postX[i], y]); });
  return out;
}

for (const p of panels) {
  const L = colLeft[p.col], W = colW[p.col], T = rowTop[p.row];
  const rows = [];
  for (const tr of p.traces) for (const [x, y] of tracePoints(tr, p.preX || [], p.postX || [])) rows.push({id: tr.id, x, y});
  const chart = Plot.plot({
    width: W + ML + MR, height: PH + MT + MB,
    marginLeft: ML, marginRight: MR, marginTop: MT, marginBottom: MB,
    style: {background: "transparent", fontFamily: "DejaVu Sans", fontSize: "15px", color: "#262626", overflow: "visible"},
    x: {domain: xDomain, ticks: xTicks, tickSize: 0, tickPadding: 8, tickFormat: d => String(d), label: null},
    y: {domain: p.yDomain, ticks: p.yTicks, tickSize: 0, tickPadding: 5, tickFormat: d => String(d), label: null},
    color: {domain: seriesIds, range: seriesColors},
    marks: [
      Plot.frame({fill: "white", stroke: "none"}),
      Plot.gridX(xTicks, {stroke: "#3a3a3a", strokeOpacity: 1, strokeWidth: 1}),
      Plot.gridY(p.yTicks, {stroke: "#3a3a3a", strokeOpacity: 1, strokeWidth: 1}),
      Plot.frame({stroke: "#262626", strokeWidth: 1}),
      Plot.line(rows.filter(r => r.id !== pinkId), {x: "x", y: "y", z: "id", stroke: "id", strokeWidth: 2.2, strokeLinejoin: "round"}),
      Plot.line(rows.filter(r => r.id === pinkId), {x: "x", y: "y", z: "id", stroke: "id", strokeWidth: 3, strokeLinejoin: "round"}),
      Plot.text([p.ylabel], {frameAnchor: "left", text: d => d, rotate: -90, dx: p.labelX - L, fontSize: 15, fill: "#262626", textAnchor: "middle", lineAnchor: "middle"})
    ]
  });
  chart.style.position = "absolute";
  chart.style.left = (L - ML) + "px";
  chart.style.top = (T - MT) + "px";
  fig.appendChild(chart);
  const t = document.createElement("div");
  t.className = "title";
  t.textContent = p.title;
  t.style.left = L + "px"; t.style.width = W + "px"; t.style.top = (T - 23) + "px";
  fig.appendChild(t);
}

// legend
const lg = document.createElement("div");
lg.id = "legend";
seriesIds.forEach((id, i) => {
  const r = document.createElement("div"); r.className = "lg";
  const sw = document.createElement("div"); sw.className = "sw"; sw.style.background = seriesColors[i];
  const tx = document.createElement("div"); tx.className = "tx"; tx.textContent = id;
  r.appendChild(sw); r.appendChild(tx); lg.appendChild(r);
});
fig.appendChild(lg);

// footer
const ft = document.createElement("div"); ft.id = "footer";
const sp = document.createElement("span"); sp.textContent = footerText;
ft.appendChild(sp); fig.appendChild(ft);
</script></body></html>
